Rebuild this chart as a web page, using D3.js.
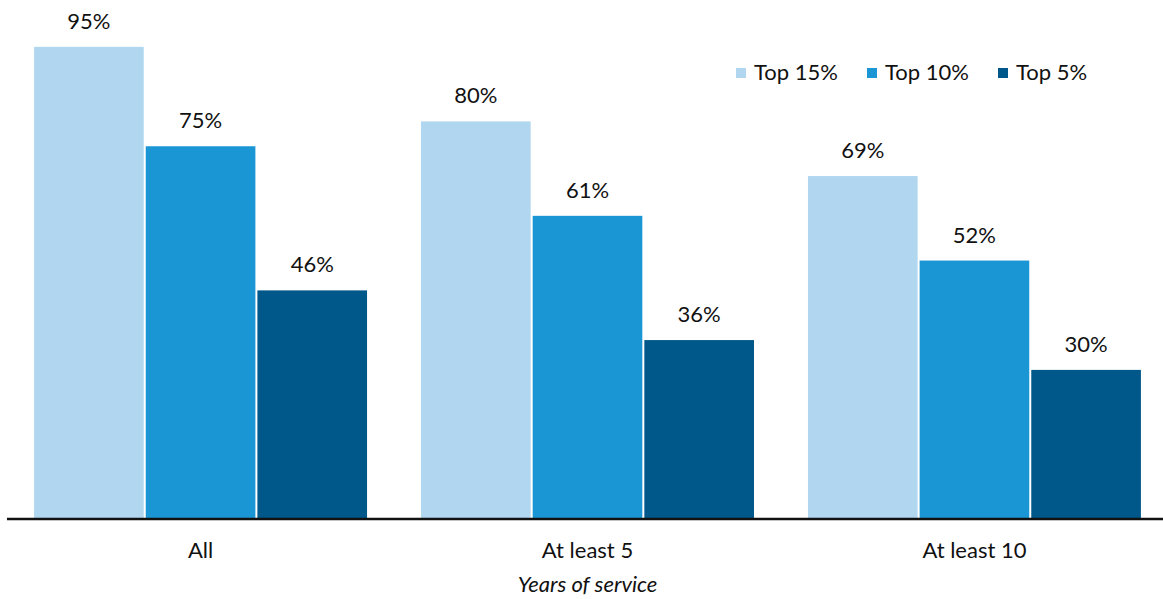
<!DOCTYPE html>
<html>
<head>
<meta charset="utf-8">
<script src="https://cdn.jsdelivr.net/npm/d3@7"></script>
<style>
  body { margin: 0; background: #fff; }
  text { font-family: Lato, "Open Sans", sans-serif; fill: #111; }
</style>
</head>
<body>
<svg id="chart" width="1163" height="599"></svg>
<script>
var categories = ["All", "At least 5", "At least 10"];
var seriesNames = ["Top 15%", "Top 10%", "Top 5%"];
var top15 = [95, 80, 69];
var top10 = [75, 61, 52];
var top5 = [46, 36, 30];
var colors = ["#b0d6f0", "#1a96d4", "#00578a"];

var svg = d3.select("#chart"),
    baseY = 519,
    left = 7,
    right = 1163;

var rows = categories.map(function(c, i) {
    return {cat: c, values: [top15[i], top10[i], top5[i]]};
});

var x0 = d3.scaleBand()
    .domain(categories)
    .range([left, 1168])
    .paddingInner(0.1395)
    .paddingOuter(0.07);

var x1 = d3.scaleBand()
    .domain(seriesNames)
    .range([0, x0.bandwidth()])
    .paddingInner(0.018);

var y = d3.scaleLinear()
    .domain([0, 100])
    .range([baseY, 22]);

var groups = svg.selectAll(".group")
    .data(rows)
    .enter().append("g")
        .attr("class", "group")
        .attr("transform", function(d) { return "translate(" + x0(d.cat) + ",0)"; });

var cells = groups.selectAll(".cell")
    .data(function(d) {
        return d.values.map(function(v, i) { return {name: seriesNames[i], value: v, i: i}; });
    })
    .enter();

cells.append("rect")
    .attr("x", function(d) { return x1(d.name); })
    .attr("y", function(d) { return y(d.value); })
    .attr("width", x1.bandwidth())
    .attr("height", function(d) { return baseY - y(d.value); })
    .attr("fill", function(d) { return colors[d.i]; });

cells.append("text")
    .attr("x", function(d) { return x1(d.name) + x1.bandwidth() / 2; })
    .attr("y", function(d) { return y(d.value) - 18; })
    .attr("text-anchor", "middle")
    .style("font-size", "22px")
    .text(function(d) { return d.value + "%"; });

// axis
var axis = svg.append("g")
    .attr("transform", "translate(0," + baseY + ")")
    .call(d3.axisBottom(x0).tickSize(0).tickPadding(23));
axis.select(".domain")
    .attr("d", "M" + left + ",0H" + right)
    .attr("stroke", "#111")
    .attr("stroke-width", 2.5);
axis.selectAll(".tick text")
    .style("font-size", "22px")
    .style("font-family", "Lato, sans-serif")
    .attr("fill", "#111");

svg.append("text")
    .attr("x", x0("At least 5") + x0.bandwidth() / 2)
    .attr("y", 592)
    .attr("text-anchor", "middle")
    .style("font-size", "22px")
    .style("font-style", "italic")
    .text("Years of service");

// legend
var legendX = [736, 867, 998];
var legend = svg.selectAll(".legend")
    .data(seriesNames)
    .enter().append("g")
        .attr("class", "legend")
        .attr("transform", function(d, i) { return "translate(" + legendX[i] + ",68)"; });
legend.append("rect")
    .attr("x", 0).attr("y", 0)
    .attr("width", 10).attr("height", 10)
    .attr("fill", function(d, i) { return colors[i]; });
legend.append("text")
    .attr("x", 18)
    .attr("y", 12)
    .style("font-size", "22px")
    .text(function(d) { return d; });
</script>
</body>
</html>
